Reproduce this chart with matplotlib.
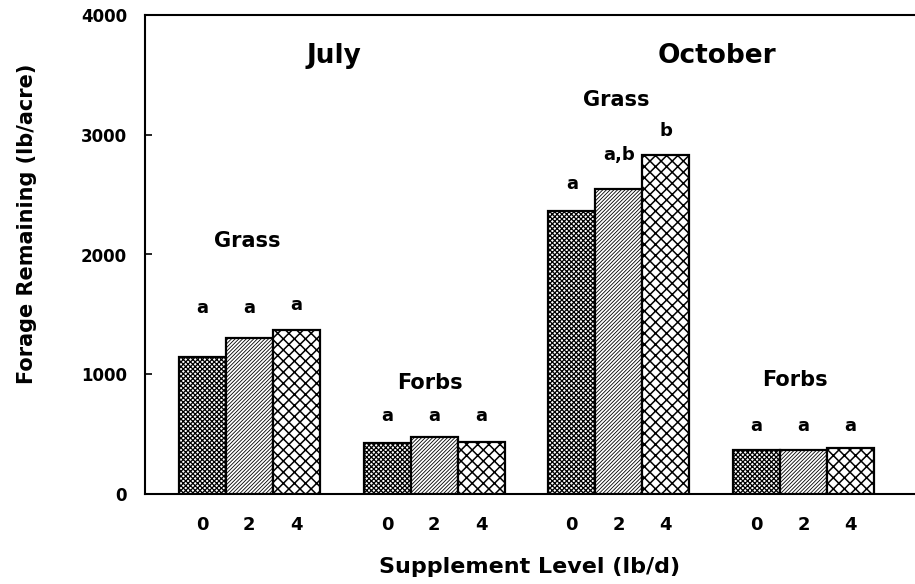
import matplotlib
matplotlib.use("Agg")
import matplotlib.pyplot as plt
import numpy as np

plt.rcParams['font.family'] = ['DejaVu Sans']
plt.rcParams['hatch.linewidth'] = 0.9

# Data
groups = ["July Grass", "July Forbs", "October Grass", "October Forbs"]
levels = ["0", "2", "4"]
july_grass = [1140, 1300, 1370]
july_forbs = [425, 475, 433]
oct_grass = [2365, 2550, 2835]
oct_forbs = [365, 365, 383]
values = [july_grass, july_forbs, oct_grass, oct_forbs]
letters = [["a", "a", "a"], ["a", "a", "a"], ["a", "a,b", "b"], ["a", "a", "a"]]
y_ticks = [0, 1000, 2000, 3000, 4000]

hatches = ["xxxxxxx", "/////////", "xxx"]
hatch_lw = [0.9, 0.6, 1.1]
group_spacing = 3.93

fig = plt.figure(figsize=(9.15, 5.84), dpi=100)
ax = fig.add_axes([145/915, 1-494/584, 770/915, 479/584])

xt, xl = [], []
for g, vals in enumerate(values):
    for i, v in enumerate(vals):
        x = g*group_spacing + (i-1)
        bars = ax.bar(x, v, width=1.0, facecolor="white", edgecolor="black",
                      hatch=hatches[i], linewidth=1.6, zorder=3)
        for b in bars:
            try:
                b.set_hatch_linewidth(hatch_lw[i])
            except Exception:
                pass
        xt.append(x)
        xl.append(levels[i])

ax.set_xlim(-2.22, 14.16)
ax.set_ylim(0, 4000)

# letter annotations
letter_y = [[1555, 1555, 1580], [650, 650, 650], [2585, 2835, 3030], [565, 565, 565]]
for g in range(4):
    for i in range(3):
        x = g*group_spacing + (i-1)
        ax.text(x, letter_y[g][i], letters[g][i], ha="center", va="center",
                fontsize=13, fontweight="bold")

# group labels
ax.text(1.8, 3660, "July", ha="center", va="center", fontsize=19, fontweight="bold")
ax.text(9.95, 3660, "October", ha="center", va="center", fontsize=19, fontweight="bold")
ax.text(-0.05, 2110, "Grass", ha="center", va="center", fontsize=15, fontweight="bold")
ax.text(7.8, 3290, "Grass", ha="center", va="center", fontsize=15, fontweight="bold")
ax.text(3.85, 930, "Forbs", ha="center", va="center", fontsize=15, fontweight="bold")
ax.text(11.6, 950, "Forbs", ha="center", va="center", fontsize=15, fontweight="bold")

ax.set_xticks(xt)
ax.set_xticklabels(xl, fontsize=13, fontweight="bold")
ax.tick_params(axis="x", length=0, pad=16)
ax.set_yticks(y_ticks)
ax.set_yticklabels([str(t) for t in y_ticks], fontsize=12, fontweight="bold")
ax.tick_params(axis="y", direction="in", length=5, width=1.2, pad=13)

ax.spines["right"].set_visible(False)
for s in ["left", "bottom", "top"]:
    ax.spines[s].set_linewidth(1.5)

fig.text(27/915, 1-224/584, "Forage Remaining (lb/acre)", rotation=90,
         ha="center", va="center", fontsize=15, fontweight="bold")
fig.text(530/915, 1-567/584, "Supplement Level (lb/d)", ha="center", va="center",
         fontsize=16, fontweight="bold")

fig.savefig("out.png", dpi=100)
